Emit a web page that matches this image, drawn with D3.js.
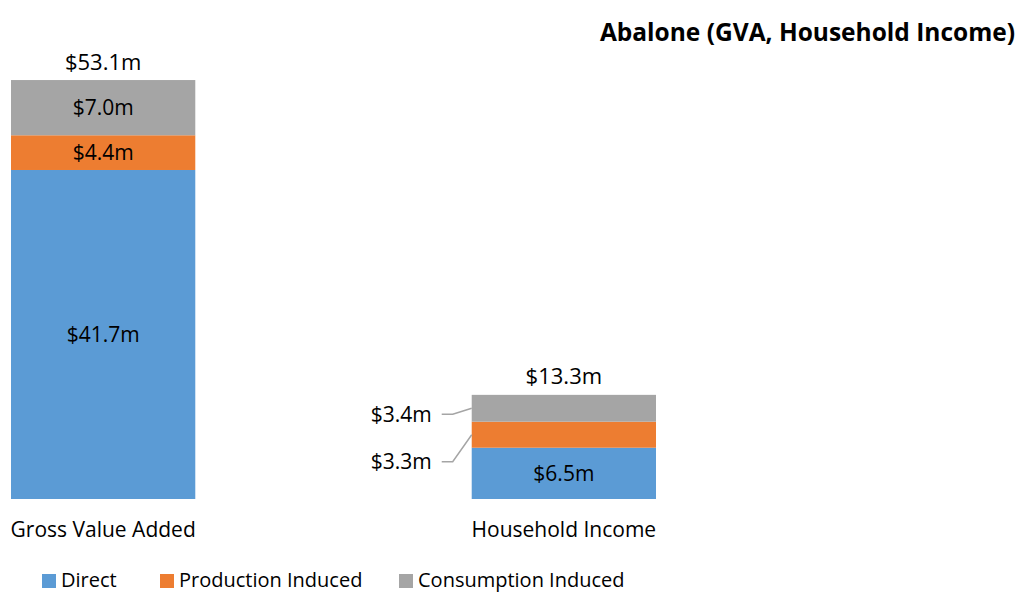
<!DOCTYPE html>
<html>
<head>
<meta charset="utf-8">
<script src="https://cdn.jsdelivr.net/npm/d3@7"></script>
<style>
  body { margin: 0; background: #fff; }
  svg { font-family: "Open Sans", sans-serif; }
</style>
</head>
<body>
<svg id="chart"></svg>
<script>
const categories = ["Gross Value Added", "Household Income"];
const seriesNames = ["Direct", "Production Induced", "Consumption Induced"];
const direct = [41.7, 6.5];
const production = [4.4, 3.3];
const consumption = [7.0, 3.4];
const totals = [53.1, 13.3];
const colors = ["#5b9bd5", "#ed7d31", "#a5a5a5"];

const width = 1020;
const height = 593;

const svg = d3.select('#chart')
  .attr('width', width)
  .attr('height', height);

// rows for stacking
const rows = categories.map((c, i) => ({
  category: c,
  "Direct": direct[i],
  "Production Induced": production[i],
  "Consumption Induced": consumption[i],
  total: totals[i]
}));

const stacked = d3.stack().keys(seriesNames)(rows);

// Scales setup
const xscale = d3.scaleBand()
  .domain(categories)
  .range([11, 656])
  .paddingInner(0.6)
  .paddingOuter(0);

const yscale = d3.scaleLinear()
  .domain([0, 60])
  .range([499, 25.6]);

const fmt = (v) => `$${v.toFixed(1)}m`;

// bars
const layer = svg.selectAll('g.layer').data(stacked).enter().append('g')
  .attr('class', 'layer')
  .style('fill', (d, i) => colors[i]);

layer.selectAll('rect').data((d) => d).enter().append('rect')
  .attr('x', (d) => xscale(d.data.category))
  .attr('width', xscale.bandwidth())
  .attr('y', (d) => yscale(d[1]))
  .attr('height', (d) => yscale(d[0]) - yscale(d[1]));

// segment labels: inside if the segment is tall enough, otherwise to the left with a leader line
const labels = svg.append('g').attr('class', 'labels');
const outsideOffsets = {};
stacked.slice().reverse().forEach((s) => {
  s.forEach((d) => {
    const value = d[1] - d[0];
    const y0 = yscale(d[1]);
    const y1 = yscale(d[0]);
    const mid = (y0 + y1) / 2;
    const x0 = xscale(d.data.category);
    if (y1 - y0 >= 30) {
      labels.append('text')
        .attr('x', x0 + xscale.bandwidth() / 2)
        .attr('y', mid)
        .attr('dy', '0.35em')
        .attr('text-anchor', 'middle')
        .style('font-size', '21px')
        .style('fill', '#000')
        .text(fmt(value));
    } else {
      // outside labels stacked downward
      const n = outsideOffsets[d.data.category] || 0;
      outsideOffsets[d.data.category] = n + 1;
      const ly = n === 0 ? mid + 6 : mid + 27;
      labels.append('polyline')
        .attr('points', `${x0 - 30},${ly} ${x0 - 19},${ly} ${x0},${mid}`)
        .style('fill', 'none')
        .style('stroke', '#a5a5a5')
        .style('stroke-width', 1.5);
      labels.append('text')
        .attr('x', x0 - 40)
        .attr('y', ly)
        .attr('dy', '0.35em')
        .attr('text-anchor', 'end')
        .style('font-size', '21px')
        .style('fill', '#000')
        .text(fmt(value));
    }
  });
});

// totals above bars
svg.append('g').selectAll('text').data(rows).enter().append('text')
  .attr('x', (d) => xscale(d.category) + xscale.bandwidth() / 2)
  .attr('y', (d) => yscale(d.total) - 18)
  .attr('dy', '0.35em')
  .attr('text-anchor', 'middle')
  .style('font-size', '22px')
  .style('fill', '#000')
  .text((d) => fmt(d.total));

// category axis
const xaxis = d3.axisBottom(xscale).tickSize(0).tickPadding(23);
const g_xaxis = svg.append('g')
  .attr('transform', `translate(0,${yscale(0)})`)
  .call(xaxis);
g_xaxis.select('.domain').remove();
g_xaxis.selectAll('text')
  .style('font-family', '"Open Sans", sans-serif')
  .style('font-size', '21px')
  .style('fill', '#000');

// title
svg.append('text')
  .attr('x', 1015)
  .attr('y', 32)
  .attr('dy', '0.35em')
  .attr('text-anchor', 'end')
  .style('font-size', '24.5px')
  .style('font-weight', 'bold')
  .style('fill', '#000')
  .text('Abalone (GVA, Household Income)');

// legend
const legendX = [42, 160, 399];
const legend = svg.append('g').selectAll('g').data(seriesNames).enter().append('g')
  .attr('transform', (d, i) => `translate(${legendX[i]},580)`);
legend.append('rect')
  .attr('x', 0)
  .attr('y', -6)
  .attr('width', 14)
  .attr('height', 14)
  .style('fill', (d, i) => colors[i]);
legend.append('text')
  .attr('x', 19)
  .attr('y', 0)
  .attr('dy', '0.35em')
  .style('font-size', '20px')
  .style('fill', '#000')
  .text((d) => d);
</script>
</body>
</html>
